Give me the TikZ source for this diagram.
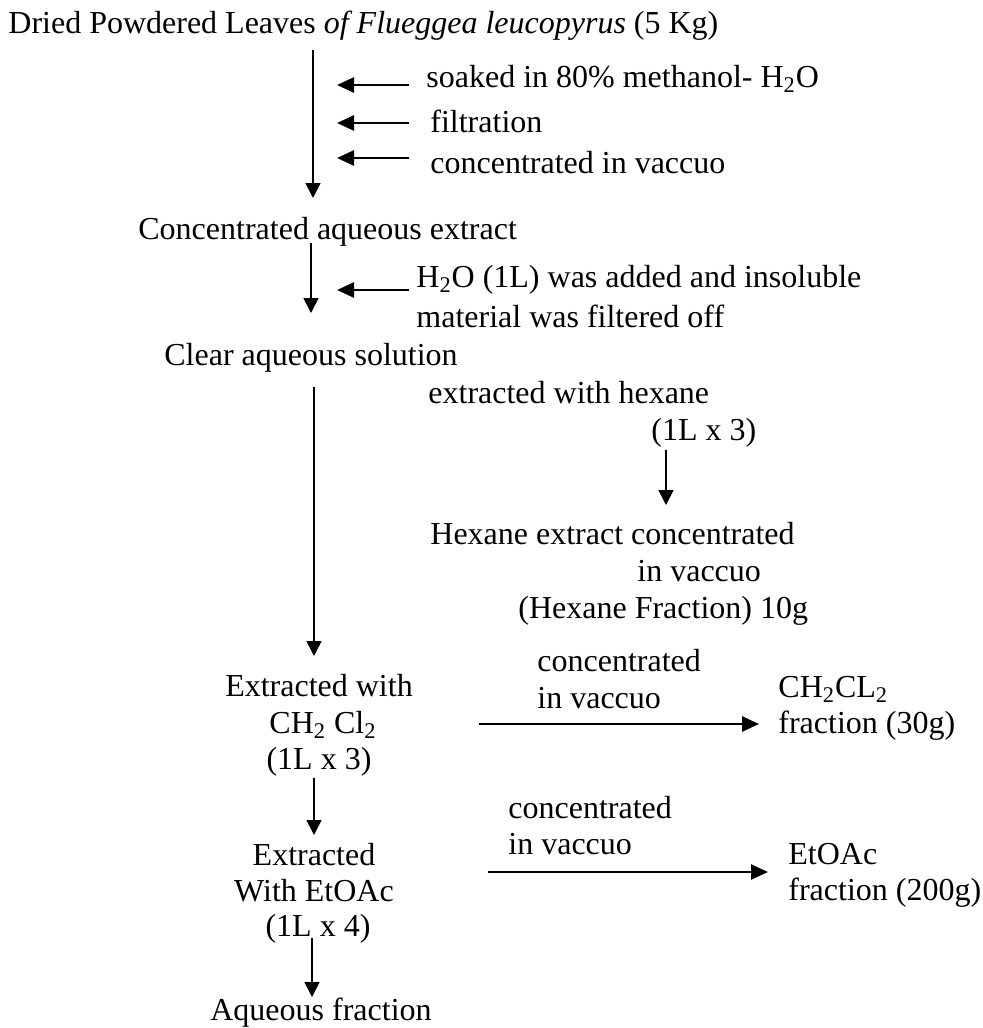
\documentclass[tikz,border=0pt]{standalone}
\usepackage{fontspec}
\setmainfont{Liberation Serif}
\usepackage{tikz}
\usetikzlibrary{arrows.meta}
\tikzset{
  lbl/.style = {anchor = base west, inner sep = 0pt, font = \fontsize{16}{18}\selectfont},
  mid/.style = {lbl, anchor = base},
  flow/.style = {-{Triangle[length = 7.5pt, width = 7.5pt]}, line width = 0.85pt},
  side/.style = {-{Triangle[length = 8.5pt, width = 7.5pt]}, line width = 1.35pt}
}

\begin{document}
\begin{tikzpicture} [x = 0.5pt, y = -0.5pt]
                \useasboundingbox (0,0) rectangle (982,1028);
                \node [lbl] (leaves) at (8,33) {Dried Powdered Leaves \textit{of Flueggea leucopyrus} (5 Kg)};
                \node [lbl] (soak) at (426,87) {soaked in 80\% methanol- H\textsubscript{2}O};
                \node [lbl] (filt) at (430,132) {filtration};
                \node [lbl] (conc) at (430,173) {concentrated in vaccuo};
                \node [lbl] (aqex) at (138,239) {Concentrated aqueous extract};
                \node [lbl] (water) at (416,287) {H\textsubscript{2}O (1L) was added and insoluble};
                \node [lbl] (insol) at (416,327) {material was filtered off};
                \node [lbl] (clear) at (164,365) {Clear aqueous solution};
                \node [lbl] (hex) at (428,403) {extracted with hexane};
                \node [lbl] (hexvol) at (651,440) {(1L x 3)};
                \node [lbl] (hexa) at (430,544) {Hexane extract concentrated};
                \node [lbl] (hexb) at (637,581) {in vaccuo};
                \node [lbl] (hexc) at (518,618) {(Hexane Fraction) 10g};
                \node [mid] (dcma) at (319,696) {Extracted with};
                \node [mid] (dcmb) at (323,733) {CH\textsubscript{2} Cl\textsubscript{2}};
                \node [mid] (dcmc) at (319,769) {(1L x 3)};
                \node [lbl] (dcmcon) at (537,671) {concentrated};
                \node [lbl] (dcmvac) at (537,708) {in vaccuo};
                \node [lbl] (dcmfa) at (778,697) {CH\textsubscript{2}CL\textsubscript{2}};
                \node [lbl] (dcmfb) at (778,733) {fraction (30g)};
                \node [mid] (eta) at (314,865) {Extracted};
                \node [mid] (etb) at (314,901) {With EtOAc};
                \node [mid] (etc) at (318,936) {(1L x 4)};
                \node [lbl] (etcon) at (508,818) {concentrated};
                \node [lbl] (etvac) at (508,854) {in vaccuo};
                \node [lbl] (etfa) at (788,864) {EtOAc};
                \node [lbl] (etfb) at (788,900) {fraction (200g)};
                \node [mid] (aqfr) at (321,1020) {Aqueous fraction};
                \coordinate (s1) at (313,50);
                \coordinate (s2) at (311,243);
                \coordinate (s3) at (314,387);
                \coordinate (s4) at (314,778);
                \coordinate (s5) at (312,938);
                \coordinate (h1) at (666,450);
                \draw [flow] (s1) -- (s1 |- 0,198);
                \draw [flow] (s2) -- (s2 |- 0,313);
                \draw [flow] (s3) -- (s3 |- 0,656);
                \draw [flow] (s4) -- (s4 |- 0,835);
                \draw [flow] (s5) -- (s5 |- 0,997);
                \draw [flow] (h1) -- (h1 |- 0,505);
                \foreach \y in {85, 123, 158, 290}
                  \draw [side] (409,\y) -- (337,\y);
                \draw [side] (479,724) -- (759,724);
                \draw [side] (488,872) -- (768,872);
            \end{tikzpicture}
\end{document}
